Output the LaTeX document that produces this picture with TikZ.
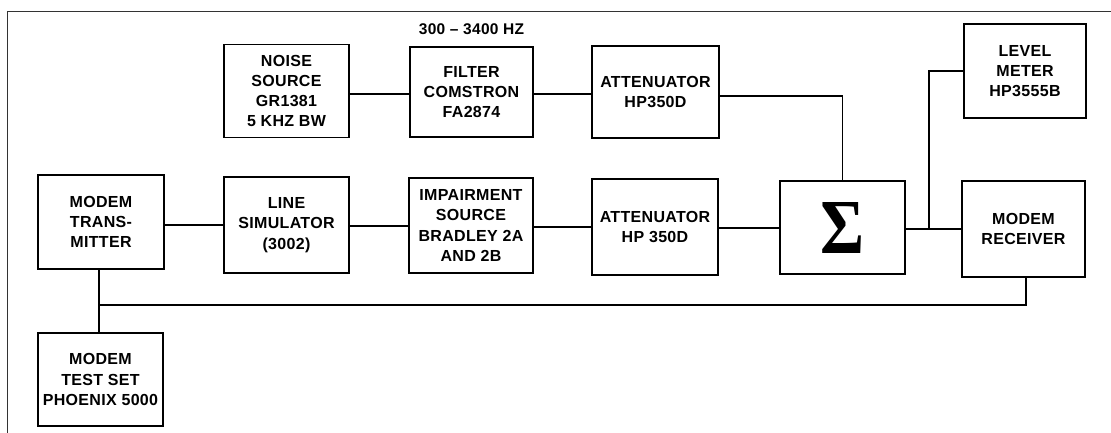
\documentclass[tikz,border=0pt]{standalone}
\usepackage{fontspec}
\setmainfont{Liberation Sans}[LetterSpace=2]
\newfontfamily\sigmafont{Liberation Serif}
\begin{document}
\begin{tikzpicture}[x=1pt,y=-1pt,
  blk/.style={draw, line width=1.5pt, inner sep=0pt, align=center,
    font=\fontsize{16}{20.3}\selectfont\bfseries},
  wire/.style={line width=1.1pt},
  frame/.style={line width=0.9pt, black!80}]
\useasboundingbox (0,0) rectangle (1111,433);
\draw[frame] (7,433) -- (7,11) -- (1111,11);
% top row
\node[blk, minimum width=125pt, minimum height=93pt] (noise) at (286.5,91) {NOISE\\SOURCE\\GR1381\\5 KHZ BW};
\node[blk, minimum width=123pt, minimum height=90pt] (filter) at (471.5,92) {FILTER\\COMSTRON\\FA2874};
\node[font=\fontsize{15.5}{20}\selectfont\bfseries, anchor=base] (band) at (471.5,35) {300 -- 3400 HZ};
\node[blk, minimum width=127pt, minimum height=92pt] (attA) at (655.5,92) {ATTENUATOR\\HP350D};
\node[blk, minimum width=122pt, minimum height=94pt] (level) at (1025,71) {LEVEL\\METER\\HP3555B};
% bottom row
\node[blk, minimum width=126pt, minimum height=94pt] (tx) at (101,222) {MODEM\\TRANS-\\MITTER};
\node[blk, minimum width=125pt, minimum height=96pt] (line) at (286.5,225) {LINE\\SIMULATOR\\(3002)};
\node[blk, minimum width=124pt, minimum height=95pt] (imp) at (471,225.5) {IMPAIRMENT\\SOURCE\\BRADLEY 2A\\AND 2B};
\node[blk, minimum width=126pt, minimum height=96pt] (attB) at (655,227) {ATTENUATOR\\HP 350D};
\node[blk, minimum width=125pt, minimum height=93pt] (sum) at (842.5,227.5) {\resizebox{44pt}{51pt}{\sigmafont\bfseries Σ}};
\node[blk, minimum width=123pt, minimum height=96pt] (rx) at (1023.5,229) {MODEM\\RECEIVER};
\node[blk, minimum width=125pt, minimum height=93pt] (test) at (100.5,379.5) {MODEM\\TEST SET\\PHOENIX 5000};
% coordinates
\coordinate (j) at (929,229);
\coordinate (fb) at (99,305);
% connectors
\draw[wire] (noise.east |- 0,94) -- (filter.west |- 0,94);
\draw[wire] (filter.east |- 0,94) -- (attA.west |- 0,94);
\draw[wire] (attA.east |- 0,96) -| (sum.north);
\draw[wire] (tx.east |- 0,225) -- (line.west |- 0,225);
\draw[wire] (line.east |- 0,226) -- (imp.west |- 0,226);
\draw[wire] (imp.east |- 0,227) -- (attB.west |- 0,227);
\draw[wire] (attB.east |- 0,228) -- (sum.west |- 0,228);
\draw[wire] (sum.east |- 0,229) -- (rx.west |- 0,229);
\draw[wire] (level.west) -| (j);
\draw[wire] (tx.south -| fb) -- (test.north -| fb);
\draw[wire] (rx.south -| 1026,0) |- (fb);
\end{tikzpicture}
\end{document}
